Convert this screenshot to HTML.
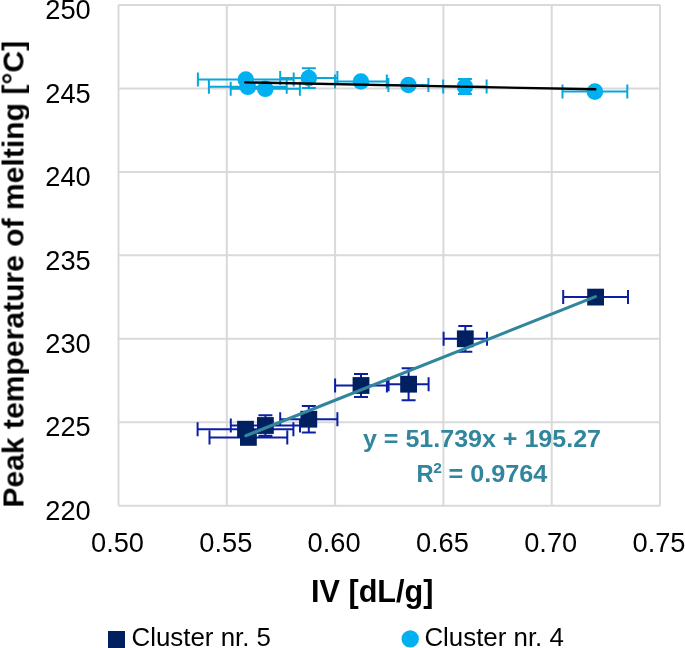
<!DOCTYPE html>
<html><head><meta charset="utf-8"><title>Chart</title>
<style>html,body{margin:0;padding:0;background:#fff;width:685px;height:648px;overflow:hidden;font-family:"Liberation Sans",sans-serif}svg{display:block}</style>
</head><body>
<svg width="685" height="648" viewBox="0 0 685 648">
<rect width="685" height="648" fill="#fff"/>
<path d="M118.5 5.00H660 M118.5 88.45H660 M118.5 171.90H660 M118.5 255.35H660 M118.5 338.80H660 M118.5 422.25H660 M118.5 505.70H660 M118.50 5V505.7 M226.80 5V505.7 M335.10 5V505.7 M443.40 5V505.7 M551.70 5V505.7 M660.00 5V505.7" stroke="#d9d9d9" stroke-width="2" fill="none"/>
<path d="M197.90 79.60H293.70 M197.90 72.60V86.60 M293.70 72.60V86.60 M208.90 86.80H286.70 M208.90 79.80V93.80 M286.70 79.80V93.80 M230.70 88.80H299.90 M230.70 81.80V95.80 M299.90 81.80V95.80 M280.20 78.10H337.40 M280.20 71.10V85.10 M337.40 71.10V85.10 M308.80 68.30V87.90 M301.80 68.30H315.80 M301.80 87.90H315.80 M335.00 81.50H386.80 M335.00 74.50V88.50 M386.80 74.50V88.50 M388.40 85.00H428.40 M388.40 78.00V92.00 M428.40 78.00V92.00 M443.20 86.60H486.60 M443.20 79.60V93.60 M486.60 79.60V93.60 M464.90 79.10V94.10 M457.90 79.10H471.90 M457.90 94.10H471.90 M562.50 91.60H627.30 M562.50 84.60V98.60 M627.30 84.60V98.60" stroke="#06a8dc" stroke-width="2" fill="none"/>
<path d="M197.60 429.20H293.40 M197.60 422.20V436.20 M293.40 422.20V436.20 M209.50 437.40H287.30 M209.50 430.40V444.40 M287.30 430.40V444.40 M230.80 425.50H300.00 M230.80 418.50V432.50 M300.00 418.50V432.50 M265.40 415.30V435.70 M258.40 415.30H272.40 M258.40 435.70H272.40 M280.20 419.20H337.40 M280.20 412.20V426.20 M337.40 412.20V426.20 M308.80 405.90V432.50 M301.80 405.90H315.80 M301.80 432.50H315.80 M335.10 385.50H386.90 M335.10 378.50V392.50 M386.90 378.50V392.50 M361.00 374.00V397.00 M354.00 374.00H368.00 M354.00 397.00H368.00 M388.60 384.20H428.60 M388.60 377.20V391.20 M428.60 377.20V391.20 M408.60 368.20V400.20 M401.60 368.20H415.60 M401.60 400.20H415.60 M443.60 338.80H487.00 M443.60 331.80V345.80 M487.00 331.80V345.80 M465.30 325.90V351.70 M458.30 325.90H472.30 M458.30 351.70H472.30 M563.20 297.10H628.00 M563.20 290.10V304.10 M628.00 290.10V304.10" stroke="#0b1fa3" stroke-width="2" fill="none"/>
<circle cx="245.8" cy="79.6" r="8.3" fill="#00b0f0"/>
<circle cx="247.8" cy="86.8" r="8.3" fill="#00b0f0"/>
<circle cx="265.3" cy="88.8" r="8.3" fill="#00b0f0"/>
<circle cx="308.8" cy="78.1" r="8.3" fill="#00b0f0"/>
<circle cx="360.9" cy="81.5" r="8.3" fill="#00b0f0"/>
<circle cx="408.4" cy="85.0" r="8.3" fill="#00b0f0"/>
<circle cx="464.9" cy="86.6" r="8.3" fill="#00b0f0"/>
<circle cx="594.9" cy="91.6" r="8.3" fill="#00b0f0"/>
<rect x="237.10" y="420.80" width="16.8" height="16.8" fill="#002060"/>
<rect x="240.00" y="429.00" width="16.8" height="16.8" fill="#002060"/>
<rect x="257.00" y="417.10" width="16.8" height="16.8" fill="#002060"/>
<rect x="300.40" y="410.80" width="16.8" height="16.8" fill="#002060"/>
<rect x="352.60" y="377.10" width="16.8" height="16.8" fill="#002060"/>
<rect x="400.20" y="375.80" width="16.8" height="16.8" fill="#002060"/>
<rect x="456.90" y="330.40" width="16.8" height="16.8" fill="#002060"/>
<rect x="587.20" y="288.70" width="16.8" height="16.8" fill="#002060"/>
<path d="M245.2 82.4L595.3 89.3" stroke="#000" stroke-width="2.4" stroke-linecap="round"/>
<path d="M245.8 435.8L595.5 296.6" stroke="#31859c" stroke-width="3.1" stroke-linecap="round"/>
<g opacity="0.999">
<text x="90.8" y="19.20" font-family="Liberation Sans" font-size="27" text-anchor="end" textLength="45.5" lengthAdjust="spacingAndGlyphs">250</text>
<text x="90.8" y="102.65" font-family="Liberation Sans" font-size="27" text-anchor="end" textLength="45.5" lengthAdjust="spacingAndGlyphs">245</text>
<text x="90.8" y="186.10" font-family="Liberation Sans" font-size="27" text-anchor="end" textLength="45.5" lengthAdjust="spacingAndGlyphs">240</text>
<text x="90.8" y="269.55" font-family="Liberation Sans" font-size="27" text-anchor="end" textLength="45.5" lengthAdjust="spacingAndGlyphs">235</text>
<text x="90.8" y="353.00" font-family="Liberation Sans" font-size="27" text-anchor="end" textLength="45.5" lengthAdjust="spacingAndGlyphs">230</text>
<text x="90.8" y="436.45" font-family="Liberation Sans" font-size="27" text-anchor="end" textLength="45.5" lengthAdjust="spacingAndGlyphs">225</text>
<text x="90.8" y="519.90" font-family="Liberation Sans" font-size="27" text-anchor="end" textLength="45.5" lengthAdjust="spacingAndGlyphs">220</text>
<text x="117.50" y="551.8" font-family="Liberation Sans" font-size="27" text-anchor="middle" textLength="53" lengthAdjust="spacingAndGlyphs">0.50</text>
<text x="225.80" y="551.8" font-family="Liberation Sans" font-size="27" text-anchor="middle" textLength="53" lengthAdjust="spacingAndGlyphs">0.55</text>
<text x="334.10" y="551.8" font-family="Liberation Sans" font-size="27" text-anchor="middle" textLength="53" lengthAdjust="spacingAndGlyphs">0.60</text>
<text x="442.40" y="551.8" font-family="Liberation Sans" font-size="27" text-anchor="middle" textLength="53" lengthAdjust="spacingAndGlyphs">0.65</text>
<text x="550.70" y="551.8" font-family="Liberation Sans" font-size="27" text-anchor="middle" textLength="53" lengthAdjust="spacingAndGlyphs">0.70</text>
<text x="659.00" y="551.8" font-family="Liberation Sans" font-size="27" text-anchor="middle" textLength="53" lengthAdjust="spacingAndGlyphs">0.75</text>
<text transform="translate(23.5 507.6) rotate(-90)" x="0" y="0" font-family="Liberation Sans" font-weight="bold" font-size="30" textLength="466.7" lengthAdjust="spacingAndGlyphs">Peak temperature of melting [°C]</text>
<text x="311" y="601.8" font-family="Liberation Sans" font-weight="bold" font-size="30.5" textLength="122.5" lengthAdjust="spacingAndGlyphs">IV [dL/g]</text>
<text x="482" y="447.4" font-family="Liberation Sans" font-weight="bold" font-size="23.7" fill="#31859c" text-anchor="middle" textLength="238" lengthAdjust="spacingAndGlyphs">y = 51.739x + 195.27</text>
<text x="416.6" y="481.5" font-family="Liberation Sans" font-weight="bold" font-size="23.7" fill="#31859c">R</text>
<text x="433.2" y="473.4" font-family="Liberation Sans" font-weight="bold" font-size="15.5" fill="#31859c">2</text>
<text x="448.4" y="481.5" font-family="Liberation Sans" font-weight="bold" font-size="23.7" fill="#31859c" textLength="99" lengthAdjust="spacingAndGlyphs">= 0.9764</text>
<rect x="108" y="631" width="17" height="17" fill="#002060"/>
<text x="131.5" y="646.2" font-family="Liberation Sans" font-size="25.5" textLength="139.5" lengthAdjust="spacingAndGlyphs">Cluster nr. 5</text>
<circle cx="410.2" cy="638.9" r="8.7" fill="#00b0f0"/>
<text x="424.4" y="646.2" font-family="Liberation Sans" font-size="25.5" textLength="139.5" lengthAdjust="spacingAndGlyphs">Cluster nr. 4</text>
</g>
</svg>
</body></html>
